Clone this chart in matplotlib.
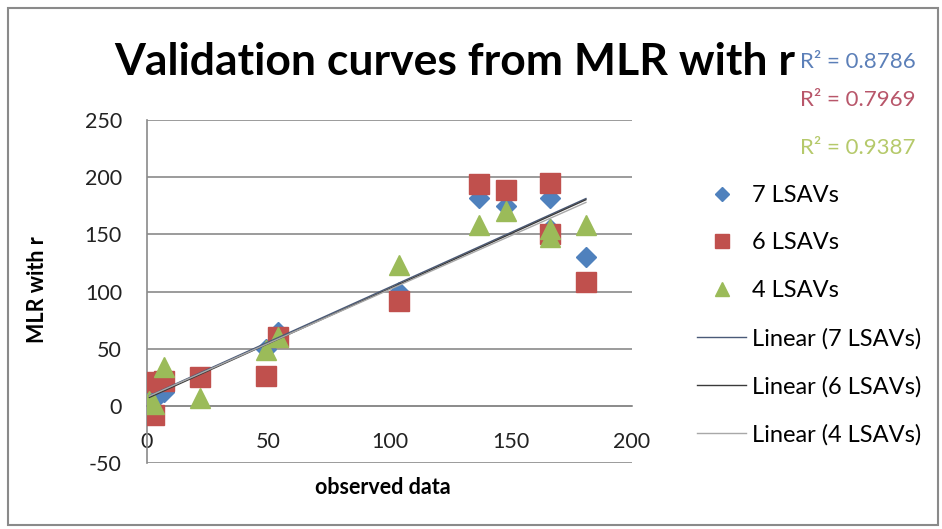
import matplotlib.pyplot as plt
import numpy as np
from matplotlib.lines import Line2D

plt.rcParams['font.family'] = ['Lato', 'DejaVu Sans']
plt.rcParams['axes.unicode_minus'] = False

# observed data (x) shared by the three models
observed = [1, 3, 7, 22, 49, 54, 104, 137, 148, 166, 166, 181]
lsav7 = [8, 5, 12, 25, 50, 65, 100, 182, 175, 182, 155, 130]
lsav6 = [21, -8, 22, 25, 26, 60, 92, 194, 189, 195, 150, 108]
lsav4 = [4, 2, 34, 7, 49, 60, 123, 158, 170, 148, 155, 158]
r2_labels = ['R² = 0.8786', 'R² = 0.7969', 'R² = 0.9387']

names = ['7 LSAVs', '6 LSAVs', '4 LSAVs']
series = [lsav7, lsav6, lsav4]
markers = ['D', 's', '^']
msizes = [10, 14, 15]
cols = ['#4f81bd', '#c0504d', '#9bbb59']
trend_cols = ['#4a5a78', '#3a3a3a', '#a8a8a8']
r2_cols = ['#5b7fb8', '#b8566a', '#b5c96a']

fig = plt.figure(figsize=(9.42, 5.29), dpi=100)
ax = fig.add_axes([147/942, 1 - 463/529, (632-147)/942, (463-120)/529])

x = np.array(observed, dtype=float)
for i, y in enumerate(series):
    ax.plot(x, y, linestyle='none', marker=markers[i], ms=msizes[i],
            color=cols[i], zorder=3 + i)

for i, y in enumerate(series):
    k, b = np.polyfit(x, y, 1)
    xx = np.array([x.min(), x.max()])
    ax.plot(xx, k * xx + b, color=trend_cols[i], lw=1, zorder=10)

ax.set_xlim(0, 200)
ax.set_ylim(-50, 250)
ax.set_xticks(np.arange(0, 201, 50))
ax.set_yticks(np.arange(-50, 251, 50))
ax.yaxis.grid(True, color='#8a8a8a', lw=1.2)
ax.set_axisbelow(True)
for s in ['top', 'right']:
    ax.spines[s].set_visible(False)
ax.spines['bottom'].set_position(('data', 0))
ax.spines['bottom'].set_color('#8a8a8a')
ax.spines['left'].set_color('#8a8a8a')
ax.spines['bottom'].set_linewidth(1.2)
ax.spines['left'].set_linewidth(1.2)
ax.tick_params(length=0, labelsize=15.5, colors='#222222')
ax.tick_params(axis='x', pad=19)
ax.tick_params(axis='y', pad=18)

fig.text(455/942, 1 - 62/529, 'Validation curves from MLR with r', ha='center',
         va='center', fontsize=32, fontweight='bold')
fig.text(38/942, 1 - 290/529, 'MLR with r', rotation=90, ha='center', va='center',
         fontsize=15.5, fontweight='bold')
fig.text(383/942, 1 - 487/529, 'observed data', ha='center', va='center',
         fontsize=15.5, fontweight='bold')

for i, (lab, yy) in enumerate(zip(r2_labels, [62, 100, 148])):
    fig.text(800/942, 1 - yy/529, lab, ha='left', va='center', fontsize=16,
             color=r2_cols[i])

handles = [Line2D([], [], linestyle='none', marker=markers[i], ms=msizes[i] * 0.7,
                  color=cols[i]) for i in range(3)]
handles += [Line2D([], [], color=trend_cols[i], lw=1) for i in range(3)]
labels = names + ['Linear (' + n + ')' for n in names]
fig.legend(handles, labels, loc='upper left', bbox_to_anchor=(685/942, 1 - 173/529),
           frameon=False, fontsize=17, handlelength=2.1, handletextpad=0.25,
           labelspacing=1.13, borderpad=0)

# outer chart frame
fig.add_artist(plt.Rectangle((8/942, 4/529), 930/942, 517/529, fill=False,
                             edgecolor='#8a8a8a', lw=1.5, transform=fig.transFigure))

fig.savefig('out.png', dpi=100)
